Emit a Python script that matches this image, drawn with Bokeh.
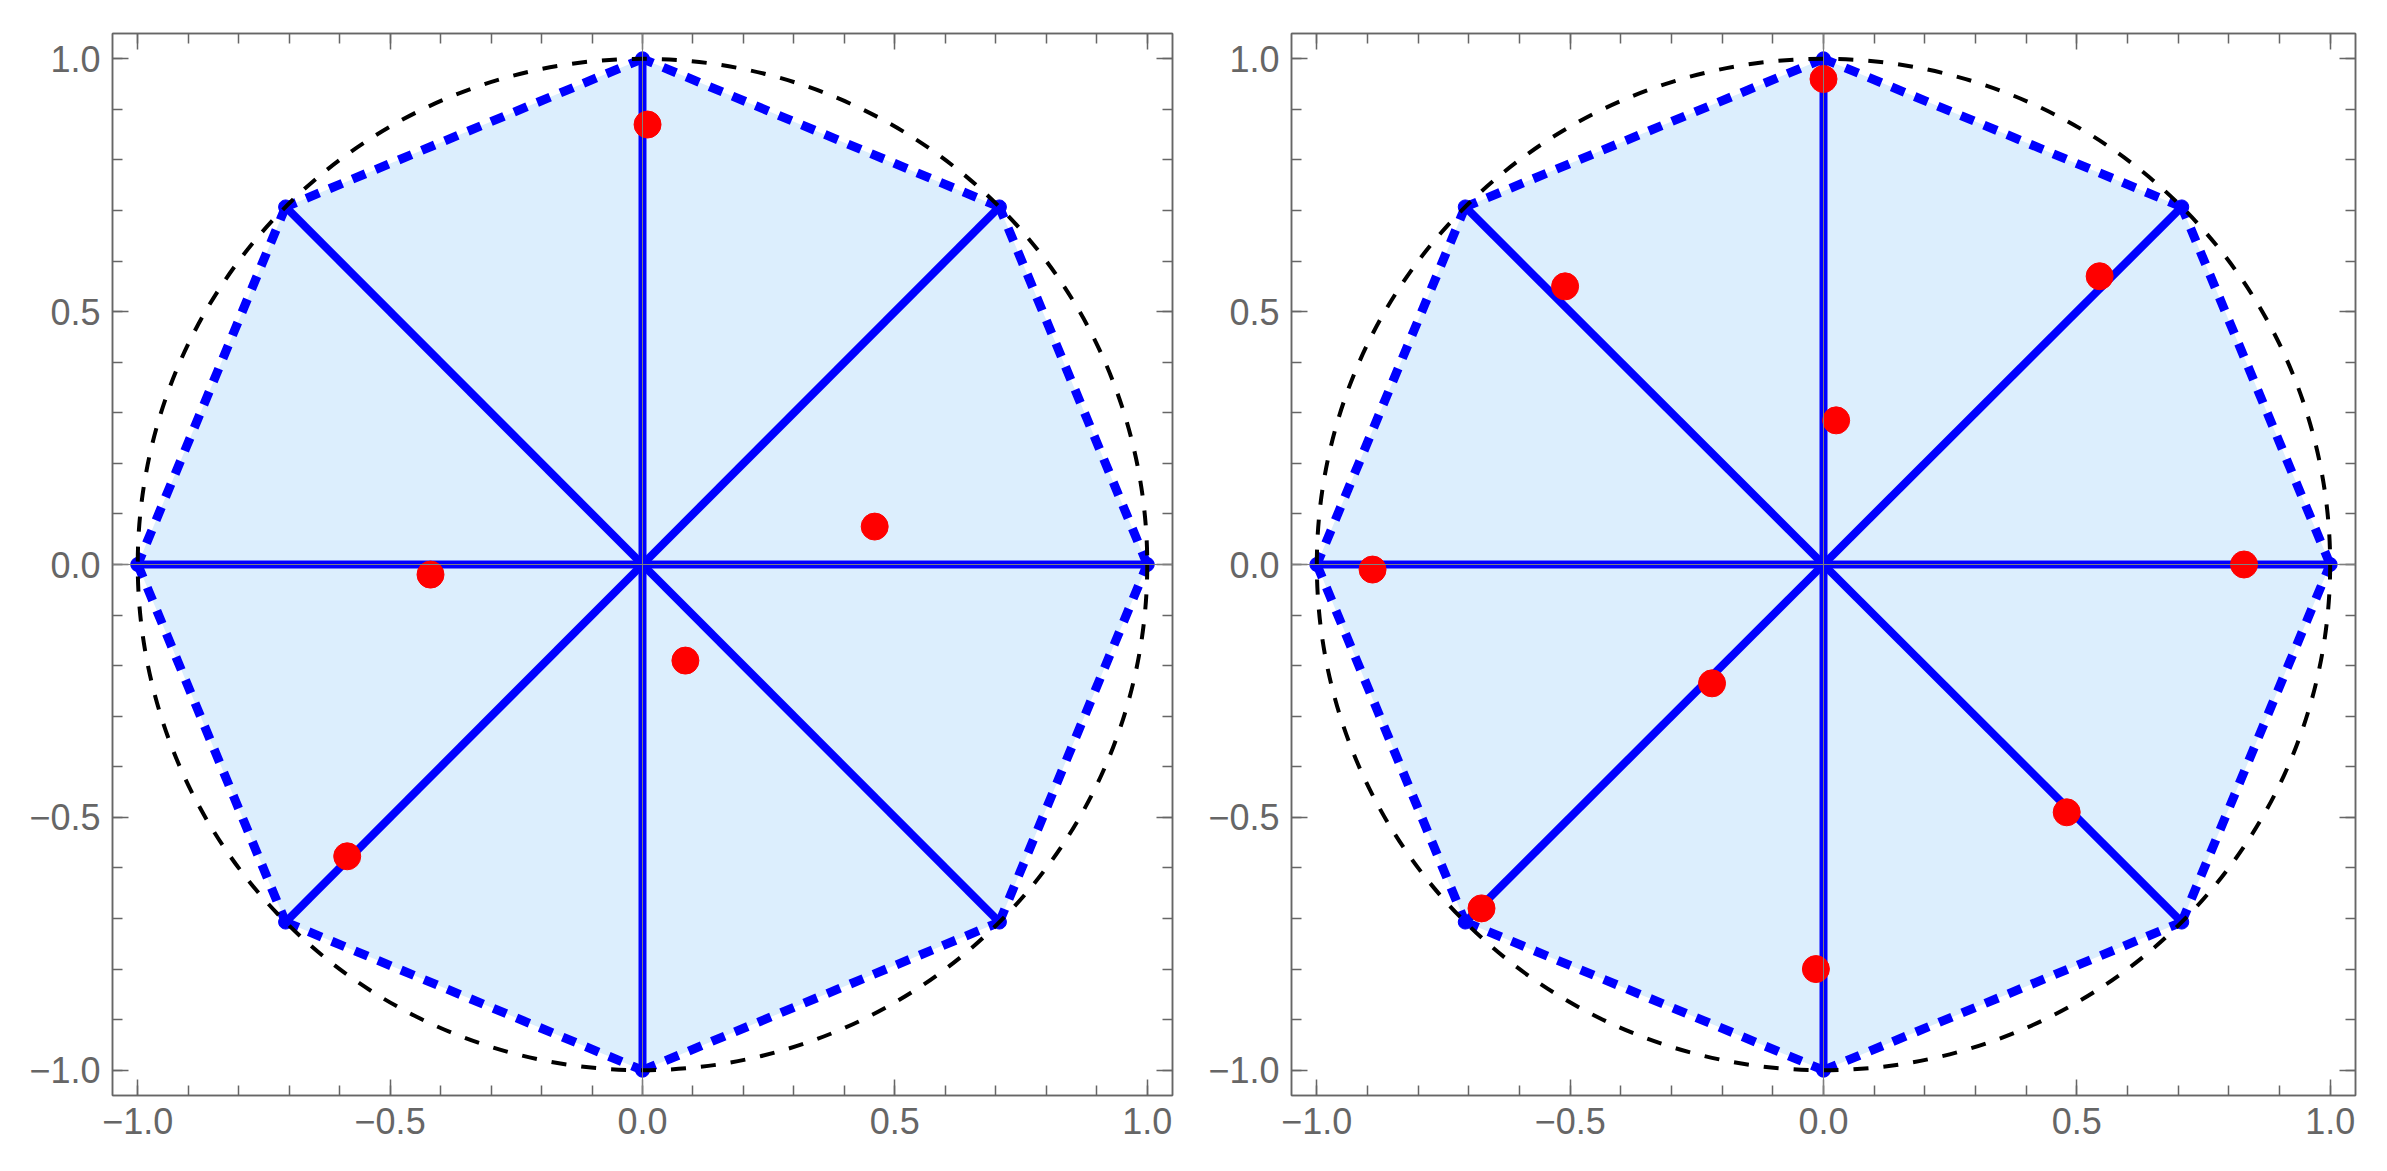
from bokeh.plotting import figure
from bokeh.layouts import row
from bokeh.models import LinearAxis, SingleIntervalTicker, Span, Range1d, CustomJSTickFormatter
from bokeh.embed import file_html
from bokeh.resources import INLINE

# Octagon vertices (unit circle, every 45 degrees)
vertex_x = [1.0, 0.7071, 0.0, -0.7071, -1.0, -0.7071, 0.0, 0.7071]
vertex_y = [0.0, 0.7071, 1.0, 0.7071, 0.0, -0.7071, -1.0, -0.7071]
center_x = [0.0] * 8
center_y = [0.0] * 8

# Red points
left_x = [0.01, 0.46, -0.42, 0.085, -0.585]
left_y = [0.87, 0.075, -0.02, -0.19, -0.577]

right_x = [0.0, -0.51, 0.545, 0.025, -0.89, 0.83, -0.22, 0.48, -0.675, -0.015]
right_y = [0.96, 0.55, 0.57, 0.285, -0.01, 0.0, -0.235, -0.49, -0.68, -0.80]

tick_values = [-1.0, -0.5, 0.0, 0.5, 1.0]
tick_labels = ["\u22121.0", "\u22120.5", "0.0", "0.5", "1.0"]
axis_min, axis_max = -1.05, 1.05

GRAY = "#666666"
FONT = "Liberation Sans"


def make_axis(show_labels, standoff=12):
    ax = LinearAxis(ticker=SingleIntervalTicker(interval=0.5, num_minor_ticks=5))
    if show_labels:
        ax.major_label_overrides = dict(zip(tick_values, tick_labels))
    else:
        ax.formatter = CustomJSTickFormatter(code="return ''")
    ax.axis_line_color = GRAY
    ax.axis_line_width = 1.5
    ax.major_tick_line_color = GRAY
    ax.minor_tick_line_color = GRAY
    ax.major_tick_line_width = 1.5
    ax.minor_tick_line_width = 1.5
    ax.major_tick_in = 16
    ax.major_tick_out = 0
    ax.minor_tick_in = 10
    ax.minor_tick_out = 0
    ax.major_label_standoff = standoff
    ax.major_label_text_font = FONT
    ax.major_label_text_font_size = "36px"
    ax.major_label_text_color = GRAY
    return ax


def make_panel(px, py, width, border_left, border_right):
    p = figure(width=width, height=1168,
               x_range=Range1d(axis_min, axis_max), y_range=Range1d(axis_min, axis_max),
               x_axis_type=None, y_axis_type=None,
               output_backend="svg", toolbar_location=None)
    p.min_border_left = border_left
    p.min_border_right = border_right
    p.min_border_top = 33
    p.min_border_bottom = 73
    p.outline_line_color = GRAY
    p.outline_line_width = 1.5
    p.background_fill_color = "white"
    p.border_fill_color = "white"

    p.add_layout(make_axis(True, 12), "below")
    p.add_layout(make_axis(True, 12), "left")
    p.add_layout(make_axis(False), "above")
    p.add_layout(make_axis(False), "right")

    # filled octagon
    p.patch(vertex_x, vertex_y, fill_color="#DCEEFD", line_color=None)
    # spokes
    p.segment(x0=center_x, y0=center_y, x1=vertex_x, y1=vertex_y,
              line_color="#0000FF", line_width=8)
    # dashed octagon edges
    nx = vertex_x[1:] + vertex_x[:1]
    ny = vertex_y[1:] + vertex_y[:1]
    p.segment(x0=vertex_x, y0=vertex_y, x1=nx, y1=ny,
              line_color="#0000FF", line_width=9, line_dash="14 11")
    # vertex dots
    p.scatter(vertex_x, vertex_y, size=14, color="#0000FF")
    # unit circle
    p.ellipse(x=0, y=0, width=2, height=2, fill_color=None,
              line_color="black", line_width=4, line_dash="15 15")
    # red points
    p.scatter(px, py, size=27, color="#FF0000")
    # axes through origin
    p.add_layout(Span(location=0, dimension="width", line_color="#808080", line_width=1))
    p.add_layout(Span(location=0, dimension="height", line_color="#808080", line_width=1))
    return p


p1 = make_panel(left_x, left_y, 1180, 112, 8)
p2 = make_panel(right_x, right_y, 1205, 111, 30)
layout = row(p1, p2)

open("out.html", "w").write(file_html(layout, INLINE))
